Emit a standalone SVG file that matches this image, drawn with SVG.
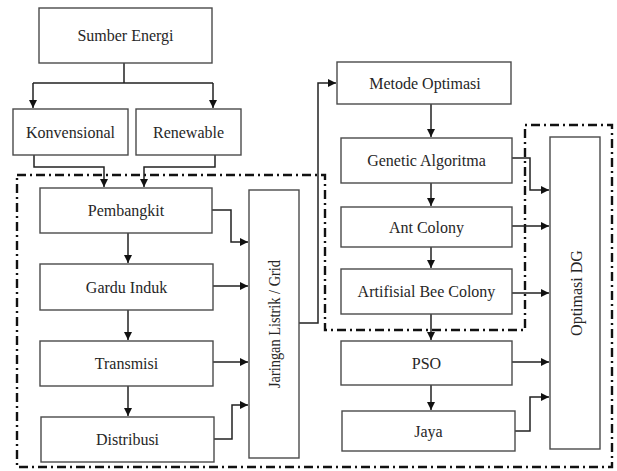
<svg xmlns="http://www.w3.org/2000/svg" width="617" height="471" viewBox="0 0 617 471">
<style>
.box{fill:#fff;stroke:#4a4a4a;stroke-width:1.4}
.t{font-family:"Liberation Serif","Times New Roman",serif;font-size:16px;fill:#262626;text-anchor:middle}
.c{fill:none;stroke:#222;stroke-width:1.5}
.a{fill:none;stroke:#222;stroke-width:1.5;marker-end:url(#ah)}
.dash{fill:none;stroke:#111;stroke-width:2.4;stroke-dasharray:9 4 2 4}
</style>
<defs>
<marker id="ah" viewBox="0 0 10 10" refX="10" refY="5" markerWidth="8" markerHeight="8" markerUnits="userSpaceOnUse" orient="auto">
<path d="M0,0 L10,5 L0,10 Z" fill="#111"/>
</marker>
</defs>
<rect width="617" height="471" fill="#fff"/>
<path class="dash" d="M17,175 H325 V330 H525 V125 H612 V467 H17 Z"/>
<g id="connectors">
<path class="c" d="M124,63 V83 M33,83 H213"/>
<path class="a" d="M33,83 V108"/>
<path class="a" d="M213,83 V108"/>
<path class="a" d="M34,155 V167 H104 V187"/>
<path class="a" d="M215,155 V167 H144 V187"/>
<path class="a" d="M128,233 V263"/>
<path class="a" d="M128,310 V340"/>
<path class="a" d="M128,386 V416"/>
<path class="a" d="M212,210 H231 V242 H248"/>
<path class="a" d="M213,286 H248"/>
<path class="a" d="M213,362 H248"/>
<path class="a" d="M214,439 H232 V405 H248"/>
<path class="a" d="M299,323 H318 V83 H336"/>
<path class="a" d="M431,104 V137"/>
<path class="a" d="M431,183 V206"/>
<path class="a" d="M431,247 V268"/>
<path class="a" d="M431,314 V340"/>
<path class="a" d="M431,385 V410"/>
<path class="a" d="M512,158 H530 V190 H549"/>
<path class="a" d="M512,226 H549"/>
<path class="a" d="M512,293 H549"/>
<path class="a" d="M512,362 H549"/>
<path class="a" d="M515,431 H530 V397 H549"/>
</g>
<g id="sumber"><rect class="box" x="39" y="8" width="173" height="55"/><text class="t" x="125.5" y="41">Sumber Energi</text></g>
<g id="konvensional"><rect class="box" x="13" y="109" width="115" height="46"/><text class="t" x="70.5" y="137.5">Konvensional</text></g>
<g id="renewable"><rect class="box" x="136" y="109" width="105" height="46"/><text class="t" x="188.5" y="137.5">Renewable</text></g>
<g id="pembangkit"><rect class="box" x="40" y="188" width="172" height="45"/><text class="t" x="126" y="216">Pembangkit</text></g>
<g id="gardu"><rect class="box" x="40" y="264" width="173" height="46"/><text class="t" x="126.5" y="292.5">Gardu Induk</text></g>
<g id="transmisi"><rect class="box" x="40" y="341" width="173" height="45"/><text class="t" x="126.5" y="369">Transmisi</text></g>
<g id="distribusi"><rect class="box" x="41" y="417" width="173" height="45"/><text class="t" x="127.5" y="445">Distribusi</text></g>
<g id="jaringan"><rect class="box" x="249" y="190" width="50" height="268"/><text class="t" transform="translate(279.5,324) rotate(-90)" x="0" y="0" textLength="128" lengthAdjust="spacingAndGlyphs">Jaringan Listrik / Grid</text></g>
<g id="metode"><rect class="box" x="337" y="62" width="174" height="42"/><text class="t" x="425" y="88.5">Metode Optimasi</text></g>
<g id="genetic"><rect class="box" x="341" y="138" width="171" height="45"/><text class="t" x="426.5" y="166">Genetic Algoritma</text></g>
<g id="ant"><rect class="box" x="341" y="207" width="171" height="40"/><text class="t" x="426.5" y="232.5">Ant Colony</text></g>
<g id="abc"><rect class="box" x="341" y="269" width="171" height="45"/><text class="t" x="426.5" y="297">Artifisial Bee Colony</text></g>
<g id="pso"><rect class="box" x="341" y="341" width="171" height="44"/><text class="t" x="426.5" y="368.5">PSO</text></g>
<g id="jaya"><rect class="box" x="342" y="411" width="173" height="40"/><text class="t" x="428.5" y="436.5">Jaya</text></g>
<g id="optimasi"><rect class="box" x="550" y="137" width="50" height="312"/><text class="t" transform="translate(581.5,293) rotate(-90)" x="0" y="0">Optimasi DG</text></g>
</svg>
